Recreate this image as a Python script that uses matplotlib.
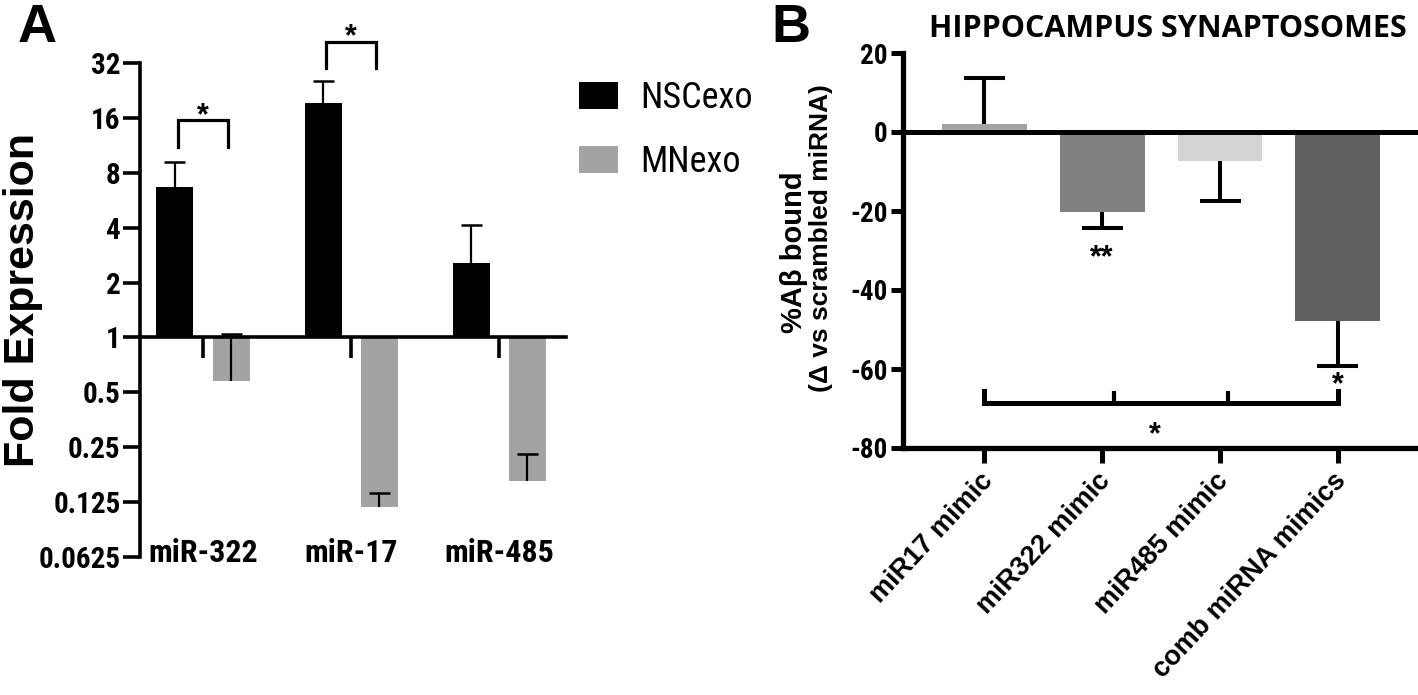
import numpy as np
import matplotlib
matplotlib.use('Agg')
import matplotlib.pyplot as plt
from matplotlib import font_manager as fm
from matplotlib.ticker import FixedLocator, FixedFormatter, NullLocator
from matplotlib.patches import Patch
from matplotlib.transforms import blended_transform_factory

# ---------------- Panel A data ----------------
genes = ['miR-322', 'miR-17', 'miR-485']
series_names = ['NSCexo', 'MNexo']
nsc_mean = [6.7, 19.3, 2.57]
nsc_sem = [2.5, 6.2, 1.58]
mn_mean = [0.58, 0.117, 0.163]
mn_sem = [0.47, 0.023, 0.066]
fold_ticks = [0.0625, 0.125, 0.25, 0.5, 1, 2, 4, 8, 16, 32]
fold_tick_labels = ['0.0625', '0.125', '0.25', '0.5', '1', '2', '4', '8', '16', '32']

# ---------------- Panel B data ----------------
mimics = ['miR17 mimic', 'miR322 mimic', 'miR485 mimic', 'comb miRNA mimics']
abeta_mean = [2.0, -20.2, -7.3, -47.9]
abeta_sem = [11.6, 4.2, 10.1, 11.3]
abeta_ticks = [-80, -60, -40, -20, 0, 20]
abeta_colors = ['#a3a3a3', '#808080', '#d4d4d4', '#606060']

names = {f.name for f in fm.fontManager.ttflist}


def pick(cands, default):
    for c in cands:
        if c in names:
            return c
    return default


NARROW = pick(['Roboto Condensed', 'Liberation Sans Narrow', 'PT Sans Narrow',
               'Archivo Narrow', 'Fira Sans Condensed', 'Pragati Narrow'], None)
if NARROW is None:
    NARROW, k = 'Liberation Sans', 0.82
else:
    k = 1.0
SANS = 'Liberation Sans'
TITLE_FONT = pick(['Open Sans'], SANS)

W, H = 1418, 695
fig = plt.figure(figsize=(W / 100, H / 100), dpi=100)


def px_rect(l, t, r, b):
    return [l / W, 1 - b / H, (r - l) / W, (b - t) / H]


# ======================= Panel A =======================
axA = fig.add_axes(px_rect(140, 63, 566, 557))
axA.set_yscale('log', base=2)
axA.set_ylim(0.0625, 32)
axA.set_xlim(-0.426, 2.45)
x = np.arange(len(genes))
off, bw = 0.19, 0.25
nsc = np.array(nsc_mean)
mn = np.array(mn_mean)
axA.bar(x - off, nsc - 1, bottom=1, width=bw, color='black', zorder=2)
axA.bar(x + off, mn - 1, bottom=1, width=bw, color='#a3a3a3', zorder=2)
cap = 0.071
for xs, m, s in ((x - off, nsc, np.array(nsc_sem)), (x + off, mn, np.array(mn_sem))):
    axA.vlines(xs, m, m + s, color='black', lw=1.6, zorder=3)
    axA.hlines(m + s, xs - cap, xs + cap, color='black', lw=1.8, zorder=3)

for s in ('top', 'right'):
    axA.spines[s].set_visible(False)
axA.spines['bottom'].set_position(('data', 1))
for s in ('left', 'bottom'):
    axA.spines[s].set_linewidth(2.6)
axA.yaxis.set_major_locator(FixedLocator(fold_ticks))
axA.yaxis.set_major_formatter(FixedFormatter(fold_tick_labels))
axA.yaxis.set_minor_locator(NullLocator())
axA.tick_params(axis='y', length=12, width=2.6, pad=2, labelsize=21 * k)
for t in axA.get_yticklabels():
    t.set_fontfamily(NARROW)
    t.set_fontweight('bold')
axA.set_xticks(x)
axA.set_xticklabels([])
axA.tick_params(axis='x', length=15, width=2.6, direction='out')

trA = blended_transform_factory(axA.transData, axA.transAxes)
for i, g in enumerate(genes):
    axA.text(i, -0.01, g, transform=trA, ha='center', va='baseline',
             fontsize=23 * k, fontweight='bold', family=NARROW)

# significance brackets
for gi, top, leg, star in ((0, 15.6, 11.1, 14.8), (1, 41.7, 30.0, 40.2)):
    xl, xr = gi - 0.17, gi + 0.17
    axA.plot([xl, xl, xr, xr], [leg, top, top, leg], color='black', lw=2.3,
             clip_on=False, solid_joinstyle='miter', zorder=4)
    axA.text(gi, star, '*', ha='center', va='baseline', fontsize=22,
             fontweight='bold', family=SANS, clip_on=False)

fig.text(23 / W, 1 - 300 / H, 'Fold Expression', rotation=90, ha='center',
         va='center', fontsize=31, fontweight='bold', family=SANS)

fs_leg = 26 * k
px = fs_leg / 0.72
fig.legend(handles=[Patch(facecolor='black'), Patch(facecolor='#a3a3a3')],
           labels=series_names, loc='upper left',
           bbox_to_anchor=(579 / W, 1 - 80 / H), frameon=False, borderpad=0,
           borderaxespad=0, handlelength=39 / px, handleheight=29 / px,
           handletextpad=22 / px, labelspacing=28 / px,
           prop={'family': NARROW, 'size': fs_leg})

fig.text(18 / W, 1 - 42 / H, 'A', fontsize=39, fontweight='bold', family=SANS,
         ha='left', va='baseline')

# ======================= Panel B =======================
axB = fig.add_axes(px_rect(903, 53, 1418, 448))
axB.set_xlim(-0.69, 3.68)
axB.set_ylim(-80, 20)
xb = np.arange(len(mimics))
bm = np.array(abeta_mean)
bs = np.array(abeta_sem) * np.sign(bm)
axB.bar(xb, bm, width=0.72, color=abeta_colors, zorder=2)
axB.vlines(xb, bm, bm + bs, color='black', lw=2.9, zorder=3)
axB.hlines(bm + bs, xb - 0.174, xb + 0.174, color='black', lw=2.9, zorder=3)
axB.axhline(0, color='black', lw=3.6, zorder=4)

for s in ('top', 'right'):
    axB.spines[s].set_visible(False)
for s in ('left', 'bottom'):
    axB.spines[s].set_linewidth(3.8)
axB.set_yticks(abeta_ticks)
axB.set_yticklabels([str(t) for t in abeta_ticks])
axB.tick_params(axis='y', length=9, width=3.6, pad=2, labelsize=19.5 * k)
for t in axB.get_yticklabels():
    t.set_fontfamily(NARROW)
    t.set_fontweight('bold')
axB.set_xticks(xb)
axB.set_xticklabels([])
axB.tick_params(axis='x', length=11, width=3.6, direction='out')
for i, m in enumerate(mimics):
    axB.annotate(m, xy=(i, -80), xycoords='data', xytext=(3, -21),
                 textcoords='offset points', ha='right', va='center',
                 rotation=47, rotation_mode='anchor', fontsize=19.5,
                 fontweight='bold', family=SANS, annotation_clip=False)

# stars and bracket
axB.text(1, -34.0, '**', ha='center', va='baseline', fontsize=22,
         fontweight='bold', family=SANS)
axB.text(3, -66.2, '*', ha='center', va='baseline', fontsize=22,
         fontweight='bold', family=SANS)
axB.plot([0, 0, 3, 3], [-65.5, -68.5, -68.5, -65.5], color='black', lw=3.6,
         solid_joinstyle='miter', zorder=4)
axB.vlines([1.1, 2.07], -68.5, -65.5, color='black', lw=3.0, zorder=4)
axB.text(1.45, -78.8, '*', ha='center', va='baseline', fontsize=22,
         fontweight='bold', family=SANS)

fig.text(1168 / W, 1 - 37 / H, 'HIPPOCAMPUS SYNAPTOSOMES', ha='center',
         va='baseline', fontsize=22, fontweight='bold', family=TITLE_FONT)
fig.text(794 / W, 1 - 252 / H, '%A\u03b2 bound', rotation=90, ha='center',
         va='center', fontsize=21, fontweight='bold', family=SANS)
fig.text(821 / W, 1 - 238 / H, '(\u0394 vs scrambled miRNA)', rotation=90,
         ha='center', va='center', fontsize=19, fontweight='bold', family=SANS)
fig.text(771 / W, 1 - 42 / H, 'B', fontsize=39, fontweight='bold', family=SANS,
         ha='left', va='baseline')

fig.savefig('out.png', dpi=100)
